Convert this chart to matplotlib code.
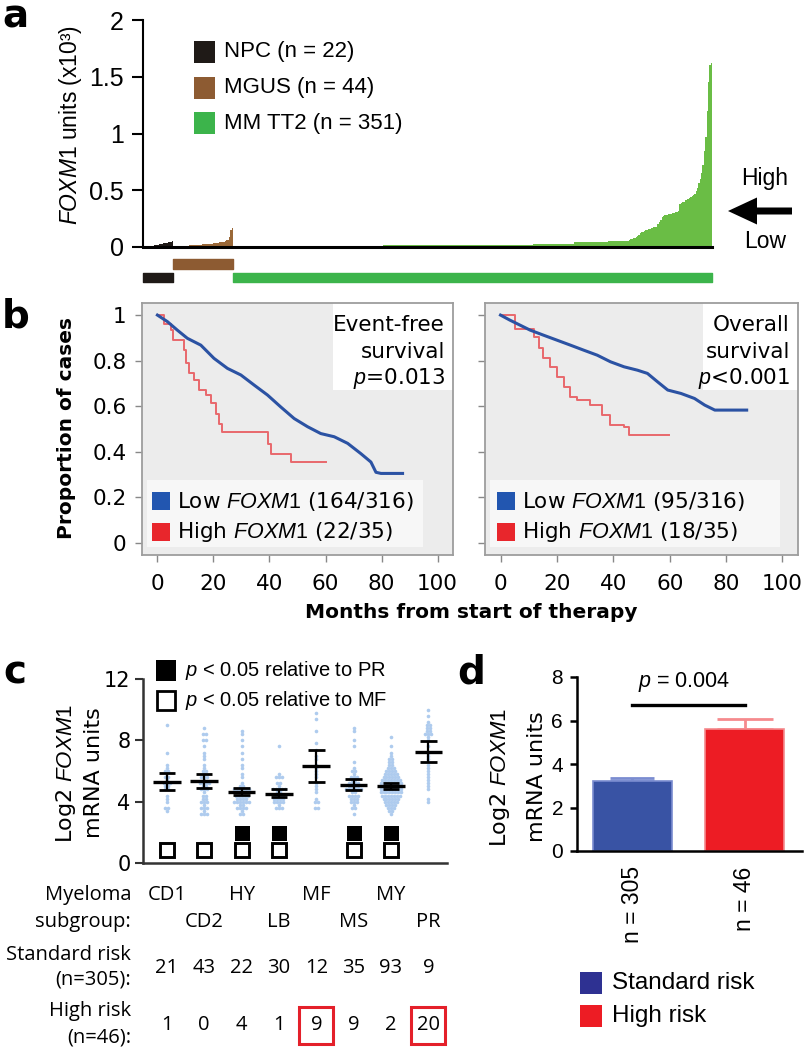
import numpy as np
import matplotlib
matplotlib.use("Agg")
import matplotlib.pyplot as plt
from matplotlib.patches import Rectangle, FancyArrow
from matplotlib import transforms

# ---------------- data ----------------
# a: FOXM1 units (x10^3), samples sorted low -> high inside each group
npc_vals = [0.004, 0.005, 0.006, 0.007, 0.008, 0.009, 0.010, 0.012, 0.014, 0.016, 0.018,
            0.020, 0.023, 0.026, 0.029, 0.032, 0.035, 0.039, 0.043, 0.046, 0.048, 0.050]
mgus_vals = [0.003, 0.004, 0.005, 0.005, 0.006, 0.007, 0.008, 0.009, 0.010, 0.011,
             0.012, 0.013, 0.014, 0.015, 0.016, 0.017, 0.018, 0.019, 0.020, 0.021,
             0.022, 0.023, 0.024, 0.025, 0.026, 0.027, 0.028, 0.029, 0.030, 0.031,
             0.032, 0.034, 0.036, 0.038, 0.040, 0.042, 0.045, 0.048, 0.052, 0.058,
             0.065, 0.090, 0.150, 0.170]
# MM TT2: long flat part read as plateaus (level, number of samples), then the tail
mm_levels = [0.005, 0.010, 0.015, 0.020, 0.030, 0.040, 0.050]
mm_counts = [50, 60, 60, 50, 30, 25, 15]
mm_tail = [0.06, 0.07, 0.07, 0.08, 0.08, 0.09,
           0.10, 0.11, 0.12, 0.13, 0.13,
           0.14, 0.15, 0.15, 0.16, 0.16, 0.17, 0.17, 0.18, 0.18, 0.18,
           0.20, 0.22, 0.24, 0.26, 0.27,
           0.28, 0.28, 0.28, 0.29, 0.29, 0.29, 0.30, 0.30, 0.31, 0.31, 0.32,
           0.38, 0.39, 0.40, 0.40, 0.41, 0.41, 0.42,
           0.43, 0.44, 0.45, 0.46, 0.47, 0.49, 0.52,
           0.56, 0.60, 0.65, 0.72, 0.85, 0.97, 1.20, 1.45, 1.60, 1.62]
mm_vals = list(np.repeat(mm_levels, mm_counts)) + mm_tail
group_labels = ["NPC (n = 22)", "MGUS (n = 44)", "MM TT2 (n = 351)"]

# b: Kaplan-Meier curves (months, proportion)
efs_low_t = [0, 3.6, 7.1, 10.7, 15.5, 20.2, 25, 29.8, 34.5, 39.3, 44, 48.8, 53.6, 58.3,
             63.1, 67.9, 72.6, 76.2, 78, 79.8, 87.5]
efs_low_s = [1.0, 0.971, 0.934, 0.898, 0.868, 0.81, 0.766, 0.737, 0.693, 0.649, 0.597,
             0.546, 0.51, 0.48, 0.466, 0.437, 0.392, 0.355, 0.31, 0.305, 0.305]
efs_high_t = [0, 2.4, 4.8, 5.4, 9.5, 10.1, 11.3, 13.1, 14.9, 17.3, 19, 20.8, 22, 22.9,
              39.3, 40.5, 47.6, 60]
efs_high_s = [1.0, 0.963, 0.934, 0.89, 0.846, 0.788, 0.744, 0.714, 0.67, 0.649, 0.612,
              0.568, 0.524, 0.488, 0.436, 0.39, 0.356, 0.356]
os_low_t = [0, 3.3, 6.9, 10.5, 15.2, 20, 24.8, 29.5, 34.3, 39, 43.8, 48.6, 52.1, 55.7,
            59.3, 64, 68.8, 72.4, 76, 87.3]
os_low_s = [1.0, 0.978, 0.956, 0.934, 0.912, 0.89, 0.868, 0.846, 0.824, 0.795, 0.773,
            0.758, 0.744, 0.707, 0.671, 0.656, 0.634, 0.605, 0.583, 0.583]
os_high_t = [0, 5.1, 11.7, 13.5, 15.2, 17.6, 20, 22.4, 24.8, 27.1, 31.9, 36, 39, 43.8,
             45.6, 59.9]
os_high_s = [1.0, 0.941, 0.905, 0.854, 0.81, 0.773, 0.729, 0.685, 0.641, 0.627, 0.605,
             0.56, 0.517, 0.51, 0.473, 0.473]
km_low_labels = [r"Low $\mathit{FOXM1}$ (164/316)", r"Low $\mathit{FOXM1}$ (95/316)"]
km_high_labels = [r"High $\mathit{FOXM1}$ (22/35)", r"High $\mathit{FOXM1}$ (18/35)"]
km_notes = [["Event-free", "survival", r"$\mathit{p}$=0.013"],
            ["Overall", "survival", r"$\mathit{p}$<0.001"]]

# c: log2 FOXM1 per myeloma subgroup
subgroups = ["CD1", "CD2", "HY", "LB", "MF", "MS", "MY", "PR"]
dots_cd1 = [9.1, 7.2, 6.5, 6.3, 6.0, 6.0, 5.7, 5.6, 5.4, 5.3, 5.2, 5.2, 5.0, 5.0, 4.8, 4.7,
            4.4, 4.3, 3.9, 3.5, 3.5, 3.4]
dots_cd2 = [8.8, 8.4, 8.3, 8.1, 8.0, 7.5, 7.3, 7.0, 6.8, 6.5, 6.2, 6.0, 5.9, 5.8, 5.7, 5.6,
            5.5, 5.4, 5.3, 5.3, 5.2, 5.2, 5.1, 5.0, 4.9, 4.8, 4.7, 4.6, 4.5, 4.4, 4.3, 4.2,
            4.1, 4.0, 3.9, 3.8, 3.7, 3.6, 3.5, 3.4, 3.3, 3.3, 3.3]
dots_hy = [8.6, 8.4, 8.0, 7.6, 7.3, 6.9, 6.5, 6.2, 5.8, 5.5, 5.2, 5.0, 5.0, 4.9, 4.9, 4.8,
           4.8, 4.7, 4.7, 4.6, 4.6, 4.6, 4.5, 4.5, 4.4, 4.4, 4.4, 4.3, 4.3, 4.2, 4.2, 4.1,
           4.1, 4.0, 4.0, 3.9, 3.9, 3.8, 3.8, 3.7, 3.6, 3.6, 3.5, 3.4, 3.3, 3.2]
dots_lb = [7.5, 5.8, 5.7, 5.6, 5.5, 5.3, 5.2, 5.0, 4.9, 4.8, 4.8, 4.7, 4.7, 4.6, 4.6, 4.5,
           4.5, 4.4, 4.4, 4.3, 4.3, 4.2, 4.2, 4.1, 4.0, 3.9, 3.9, 3.8, 3.7, 3.6, 3.5]
dots_mf = [9.8, 9.4, 8.7, 7.8, 7.4, 7.0, 6.8, 6.5, 6.3, 6.1, 5.8, 5.6, 5.3, 5.0, 4.8, 4.6,
           4.3, 4.1, 3.9, 3.7, 3.5]
dots_ms = [8.8, 8.6, 8.1, 7.6, 6.6, 6.3, 6.1, 6.0, 5.8, 5.7, 5.6, 5.5, 5.4, 5.4, 5.3, 5.3,
           5.2, 5.2, 5.1, 5.1, 5.0, 5.0, 4.9, 4.9, 4.8, 4.8, 4.7, 4.7, 4.6, 4.6, 4.5, 4.5,
           4.4, 4.4, 4.3, 4.3, 4.2, 4.1, 4.0, 3.9, 3.8, 3.7, 3.5, 3.2]
dots_my = ([8.2, 7.7, 7.3, 7.1, 6.9, 6.8] + [6.6] * 2 + [6.4] * 2 + [6.2] * 3 + [6.0] * 4
           + [5.8] * 5 + [5.6] * 6 + [5.4] * 7 + [5.2] * 8 + [5.0] * 8 + [4.8] * 8
           + [4.6] * 8 + [4.4] * 7 + [4.2] * 6 + [4.0] * 5 + [3.8] * 4 + [3.6] * 3
           + [3.4] * 2 + [3.2])
dots_pr = [9.9, 9.5, 9.3, 9.1, 9.0, 8.9, 8.8, 8.7, 8.6, 8.5, 8.4, 8.3, 8.2, 8.0, 7.6, 7.2,
           7.0, 6.8, 6.5, 6.2, 6.0, 5.8, 5.6, 5.4, 5.2, 5.0, 4.7, 4.3, 4.0]
sub_dots = [dots_cd1, dots_cd2, dots_hy, dots_lb, dots_mf, dots_ms, dots_my, dots_pr]
sub_mean = [5.30, 5.35, 4.65, 4.50, 6.35, 5.10, 5.02, 7.27]
sub_lo = [4.75, 4.90, 4.45, 4.30, 5.30, 4.77, 4.82, 6.60]
sub_hi = [5.85, 5.82, 4.90, 4.85, 7.40, 5.45, 5.25, 7.95]
sig_vs_pr = [0, 0, 1, 1, 0, 1, 1, 0]
sig_vs_mf = [1, 1, 1, 1, 0, 1, 1, 0]
std_risk_n = [21, 43, 22, 30, 12, 35, 93, 9]
high_risk_n = [1, 0, 4, 1, 9, 9, 2, 20]
boxed = ["MF", "PR"]

# d: mean +/- SEM
risk_labels = ["Standard risk", "High risk"]
risk_mean = [3.22, 5.60]
risk_sem = [0.12, 0.47]
risk_n = [305, 46]

# ---------------- figure ----------------
W, H = 805, 1050
plt.rcParams["font.family"] = ["DejaVu Sans"]
plt.rcParams["mathtext.fontset"] = "custom"
plt.rcParams["mathtext.it"] = "Liberation Sans:italic"
plt.rcParams["mathtext.rm"] = "Liberation Sans"
ARIAL = ["Liberation Sans"]
HUMAN = ["Open Sans"]

fig = plt.figure(figsize=(W / 100, H / 100), dpi=100)


def px_axes(x0, y0, x1, y1):
    return fig.add_axes([x0 / W, 1 - y1 / H, (x1 - x0) / W, (y1 - y0) / H])


def ftext(x, y, s, **kw):
    return fig.text(x / W, 1 - y / H, s, **kw)


def frect(x0, y0, x1, y1, **kw):
    fig.add_artist(Rectangle((x0 / W, 1 - y1 / H), (x1 - x0) / W, (y1 - y0) / H,
                             transform=fig.transFigure, **kw))


for letter, x, y in [("a", 2, 28), ("b", 2, 327), ("c", 3, 683), ("d", 457, 683)]:
    ftext(x, y, letter, fontsize=28, fontweight="bold", va="baseline", ha="left")

# ---- panel a
ax_a = px_axes(143, 20, 712, 247)
fill_cols = ["#1f1a17", "#9a6838", "#6abd45"]
bar_cols = ["#1f1a17", "#8d5b32", "#3cb44b"]
start = 0
spans = []
for vals, col in zip([npc_vals, mgus_vals, mm_vals], fill_cols):
    edges = np.arange(start, start + len(vals) + 1)
    ax_a.stairs(vals, edges, fill=True, color=col, lw=0)
    spans.append((start, len(vals)))
    start += len(vals)
ax_a.set_xlim(0, start)
ax_a.set_ylim(0, 2)
for (s0, n), col, ylev in zip(spans, bar_cols, [(-0.308, 0.079), (-0.194, 0.088), (-0.308, 0.079)]):
    bb = ax_a.broken_barh([(s0, n)], ylev, color=col)
    bb.set_clip_on(False)
for sp in ["top", "right"]:
    ax_a.spines[sp].set_visible(False)
ax_a.spines["left"].set_linewidth(1.5)
ax_a.spines["bottom"].set_linewidth(2.2)
ax_a.set_xticks([])
ax_a.set_yticks([0, 0.5, 1, 1.5, 2])
ax_a.set_yticklabels(["0", "0.5", "1", "1.5", "2"], family=ARIAL, fontsize=18)
ax_a.tick_params(axis="y", length=8, width=1.5, pad=6)
ftext(70, 125, r"$\mathit{FOXM1}$ units (x10³)", rotation=90, ha="center", va="center",
      fontsize=16.5, family=ARIAL)
for i, (lab, col) in enumerate(zip(group_labels, bar_cols)):
    yc = 52 + 35.5 * i
    frect(194, yc - 11, 215, yc + 11, color=col, lw=0)
    ftext(224, yc, lab, va="center", ha="left", fontsize=16, family=ARIAL)
fig.add_artist(FancyArrow(792 / W, 1 - 211 / H, -(792 - 728) / W, 0, width=7 / H,
                          head_width=27 / H, head_length=29 / W, length_includes_head=True,
                          transform=fig.transFigure, color="black", lw=0))
ftext(765, 178, "High", ha="center", va="center", fontsize=16.5, family=ARIAL)
ftext(765, 242, "Low", ha="center", va="center", fontsize=16.5, family=ARIAL)

# ---- panel b
km_axes = [px_axes(142, 303, 453, 555), px_axes(485, 303, 798, 555)]
km_data = [(efs_low_t, efs_low_s, efs_high_t, efs_high_s),
           (os_low_t, os_low_s, os_high_t, os_high_s)]
note_box_x = [0.614, 0.696]
legend_box_w = [0.888, 0.927]
legend_sq_x = [0.032, 0.038]
for k, ax in enumerate(km_axes):
    lt, ls, ht, hs = km_data[k]
    ax.set_facecolor("#ececec")
    ax.add_patch(Rectangle((note_box_x[k], 0.655), 1 - note_box_x[k], 0.345,
                           transform=ax.transAxes, fc="white", ec="none", zorder=0.5))
    ax.add_patch(Rectangle((0.016, 0.032), legend_box_w[k], 0.266,
                           transform=ax.transAxes, fc="#f7f7f7", ec="none", zorder=0.5))
    # low group has many small steps -> reads as a continuous line
    ax.plot(lt, ls, color="#2b52a3", lw=2.2, zorder=3)
    ax.plot(ht, hs, drawstyle="steps-post", color="#e8686c", lw=1.4, zorder=2)
    ax.set_xlim(-5.5, 105.5)
    ax.set_ylim(-0.053, 1.053)
    ax.set_xticks(range(0, 101, 20))
    ax.set_yticks([0, 0.2, 0.4, 0.6, 0.8, 1.0])
    if k == 0:
        ax.set_yticklabels(["0", "0.2", "0.4", "0.6", "0.8", "1"])
    else:
        ax.set_yticklabels([])
    ax.tick_params(axis="both", direction="out", length=5, width=1, color="#888888",
                   labelsize=15.5)
    ax.tick_params(axis="y", pad=6)
    ax.tick_params(axis="x", pad=9)
    for sp in ax.spines.values():
        sp.set_color("#9d9d9d")
        sp.set_linewidth(1.3)
    for j, line in enumerate(km_notes[k]):
        ax.text(0.974, 0.913 - 0.106 * j, line, transform=ax.transAxes, ha="right",
                va="center", fontsize=15.5)
    for j, (lab, col) in enumerate([(km_low_labels[k], "#2256b0"), (km_high_labels[k], "#e8262c")]):
        yc = 0.214 - 0.123 * j
        ax.add_patch(Rectangle((legend_sq_x[k], yc - 0.036), 0.058, 0.072,
                               transform=ax.transAxes, fc=col, ec="none", zorder=4))
        ax.text(legend_sq_x[k] + 0.08, yc, lab, transform=ax.transAxes, ha="left",
                va="center", fontsize=15.5)
ftext(66, 428, "Proportion of cases", rotation=90, ha="center", va="center",
      fontsize=14.5, fontweight="bold")
ftext(471, 612, "Months from start of therapy", ha="center", va="center",
      fontsize=14.5, fontweight="bold")

# ---- panel c
ax_c = px_axes(143, 679, 447, 863)
for i, vals in enumerate(sub_dots):
    bins = np.round(np.array(vals) / 0.2) * 0.2
    for b in np.unique(bins):
        k = int(np.sum(bins == b))
        xs = i + 1 + (np.arange(k) - (k - 1) / 2) * 0.08
        ax_c.plot(xs, [b] * k, "o", ms=2.6, mew=0, color="#aecbee", zorder=2)
xpos = np.arange(1, len(subgroups) + 1)
ax_c.hlines(sub_mean, xpos - 0.37, xpos + 0.37, color="black", lw=2.4, zorder=3)
ax_c.vlines(xpos, sub_lo, sub_hi, color="black", lw=1.6, zorder=3)
ax_c.hlines(sub_lo, xpos - 0.22, xpos + 0.22, color="black", lw=2.0, zorder=3)
ax_c.hlines(sub_hi, xpos - 0.22, xpos + 0.22, color="black", lw=2.0, zorder=3)
xf = [x for x, s in zip(xpos, sig_vs_pr) if s]
xo = [x for x, s in zip(xpos, sig_vs_mf) if s]
ax_c.plot(xf, [1.97] * len(xf), "s", ms=10.8, mew=0, color="black", zorder=4, clip_on=False)
ax_c.plot(xo, [0.85] * len(xo), "s", ms=9.4, mew=2.1, mfc="white", mec="black", zorder=4,
          clip_on=False)
ax_c.set_xlim(0.36, 8.5)
ax_c.set_ylim(0, 12)
ax_c.set_xticks([])
ax_c.set_yticks([0, 4, 8, 12])
ax_c.tick_params(axis="y", length=6, width=1.5, pad=3, labelsize=15, color="#333333")
for sp in ["top", "right"]:
    ax_c.spines[sp].set_visible(False)
for sp in ["left", "bottom"]:
    ax_c.spines[sp].set_linewidth(1.8)
    ax_c.spines[sp].set_color("#333333")
ftext(66, 773, r"Log2 $\mathit{FOXM1}$", rotation=90, ha="center", va="center", fontsize=16)
ftext(94, 773, "mRNA units", rotation=90, ha="center", va="center", fontsize=16)
frect(156, 660, 176, 681, color="black", lw=0)
frect(157, 691, 175, 710, fc="white", ec="black", lw=2.0)
ftext(185, 670, r"$\mathit{p}$ < 0.05 relative to PR", va="center", fontsize=14.5, family=ARIAL)
ftext(185, 700, r"$\mathit{p}$ < 0.05 relative to MF", va="center", fontsize=14.5, family=ARIAL)

blend = transforms.blended_transform_factory(ax_c.transData, fig.transFigure)
for i, name in enumerate(subgroups):
    yrow = 895 if i % 2 == 0 else 922
    ax_c.text(i + 1, 1 - yrow / H, name, transform=blend, ha="center", va="center",
              fontsize=14.5, family=HUMAN)
    ax_c.text(i + 1, 1 - 968 / H, str(std_risk_n[i]), transform=blend, ha="center",
              va="center", fontsize=14.5, family=HUMAN)
    ax_c.text(i + 1, 1 - 1025 / H, str(high_risk_n[i]), transform=blend, ha="center",
              va="center", fontsize=14.5, family=HUMAN)
    if name in boxed:
        ax_c.add_artist(Rectangle((i + 1 - 0.455, 1 - 1044 / H), 0.91, 37 / H, transform=blend,
                                  fill=False, ec="#e4202a", lw=2.2, clip_on=False))
for txt, y in [("Myeloma", 895), ("subgroup:", 922), ("Standard risk", 955),
               ("(n=305):", 980), ("High risk", 1011), ("(n=46):", 1037)]:
    ftext(131, y, txt, ha="right", va="center", fontsize=14.5, family=HUMAN)

# ---- panel d
ax_d = px_axes(577, 677, 802, 851)
xb = np.arange(len(risk_labels))
bar_fc = ["#3953a4", "#ed1c24"]
bar_ec = ["#7a8cd0", "#f58a8d"]
cap_pt = [15.5, 20]
ax_d.bar(xb, risk_mean, width=0.7, color=bar_fc, edgecolor=bar_ec, lw=1.2, zorder=2)
for x, m, e, ec, cp in zip(xb, risk_mean, risk_sem, bar_ec, cap_pt):
    ax_d.errorbar([x], [m], yerr=[[0], [e]], fmt="none", ecolor=ec, elinewidth=2,
                  capsize=cp, capthick=2, zorder=1)
ax_d.plot([0, 1], [6.7, 6.7], color="black", lw=2.4)
ax_d.text(0.46, 7.77, r"$\mathit{p}$ = 0.004", ha="center", va="center", fontsize=15.5,
          family=ARIAL)
ax_d.set_xlim(-0.49, 1.51)
ax_d.set_ylim(0, 8)
ax_d.set_yticks([0, 2, 4, 6, 8])
ax_d.set_xticks(xb)
ax_d.set_xticklabels([f"n = {n}" for n in risk_n], rotation=90, va="top", ha="center",
                     fontsize=16.5, family=ARIAL)
ax_d.tick_params(axis="x", length=0, pad=11)
ax_d.tick_params(axis="y", length=5, width=1.8, pad=5, labelsize=15)
for t in ax_d.get_yticklabels():
    t.set_family(ARIAL)
for sp in ["top", "right"]:
    ax_d.spines[sp].set_visible(False)
for sp in ["left", "bottom"]:
    ax_d.spines[sp].set_linewidth(1.8)
ftext(500, 777, r"Log2 $\mathit{FOXM1}$", rotation=90, ha="center", va="center", fontsize=16)
ftext(537, 777, "mRNA units", rotation=90, ha="center", va="center", fontsize=16)
for j, (lab, col) in enumerate(zip(risk_labels, ["#2e3192", "#ed1c24"])):
    yc = 983 + 33 * j
    frect(580, yc - 11, 602, yc + 11, color=col, lw=0)
    ftext(612, yc, lab, va="center", ha="left", fontsize=17.5, family=ARIAL)

fig.savefig("out.png", dpi=100)
